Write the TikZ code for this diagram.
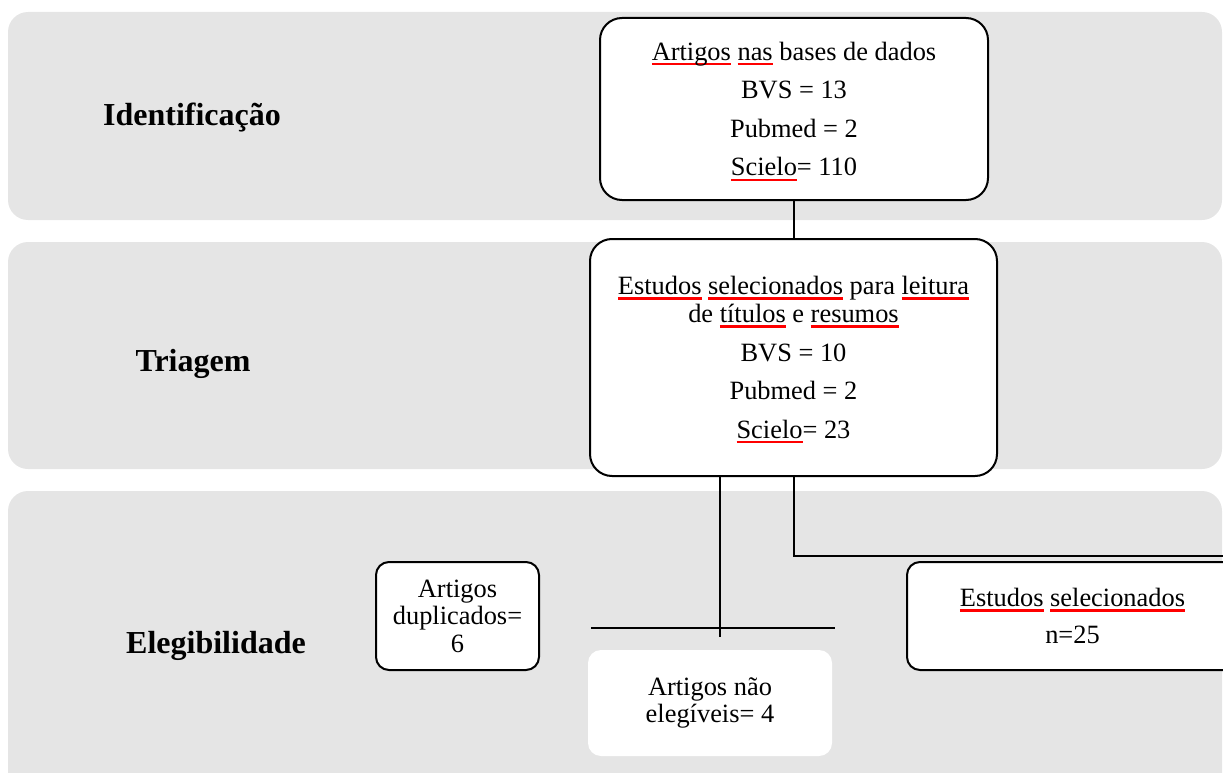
\documentclass[tikz,border=0pt]{standalone}
\usepackage{fontspec}
\setmainfont{Liberation Serif}
\usetikzlibrary{calc}
\usepackage{xcolor}
\newsavebox\spellbox
\newcommand\spellmark[1]{\sbox\spellbox{#1}\rlap{\smash{\textcolor{red}{\rule[-5pt]{\wd\spellbox}{2.2pt}}}}\usebox\spellbox}

\begin{document}
\begin{tikzpicture}[x=1pt,y=-1pt,
 band/.style={fill=gray!20, rounded corners=20pt},
 flowbox/.style={draw, line width=2pt, rounded corners=22pt, fill=white, align=center, inner sep=0pt, font=\fontsize{26.4}{38.6}\selectfont},
 smallbox/.style={flowbox, rounded corners=13pt, font=\fontsize{26.4}{27.6}\selectfont},
 phase/.style={anchor=base, font=\fontsize{32}{38}\selectfont\bfseries},
 link/.style={line width=2pt}]
\useasboundingbox (0,0) rectangle (1223,773);
\clip (0,0) rectangle (1223,773);
\fill[band] (8,12) rectangle (1222,220);
\fill[band] (8,242) rectangle (1222,469);
\fill[band] (8,491) rectangle (1222,820);
\node[phase] (ident) at (192,125) {Identificação};
\node[phase] (triag) at (193,371) {Triagem};
\node[phase] (eleg) at (216,653) {Elegibilidade};
\node[flowbox, minimum width=388pt, minimum height=182pt] (bases) at (794,109)
 {\spellmark{Artigos} \spellmark{nas} bases de dados\\ BVS = 13\\ Pubmed = 2\\ \spellmark{Scielo}= 110};
\node[flowbox, minimum width=407pt, minimum height=237pt] (leitura) at (793.5,357.5)
 {\spellmark{Estudos} \spellmark{selecionados} para \spellmark{leitura}\\[-10.6pt] de \spellmark{títulos} e \spellmark{resumos}\\ BVS = 10\\ Pubmed = 2\\ \spellmark{Scielo}= 23};
\node[smallbox, minimum width=163pt, minimum height=108pt] (duplic) at (457.5,616) {Artigos\\ duplicados=\\ 6};
\node[smallbox, draw=none, minimum width=244pt, minimum height=106pt] (naoeleg) at (710,703) {Artigos não\\ elegíveis= 4};
\node[smallbox, font=\fontsize{26.4}{37}\selectfont, minimum width=331pt, minimum height=108pt] (selec) at (1072.5,616)
 {\spellmark{Estudos} \spellmark{selecionados}\\ n=25};
\coordinate (cutL) at (591,628);
\coordinate (cutR) at (835,628);
\coordinate (drop) at (720,637);
\coordinate (exit) at (1240,556);
\draw[link] (bases.south) -- (bases.south |- leitura.north);
\draw[link] (leitura.south -| drop) -- (drop);
\draw[link] (cutL) -- (cutR);
\draw[link] (leitura.south) |- (exit);
\end{tikzpicture}
\end{document}
